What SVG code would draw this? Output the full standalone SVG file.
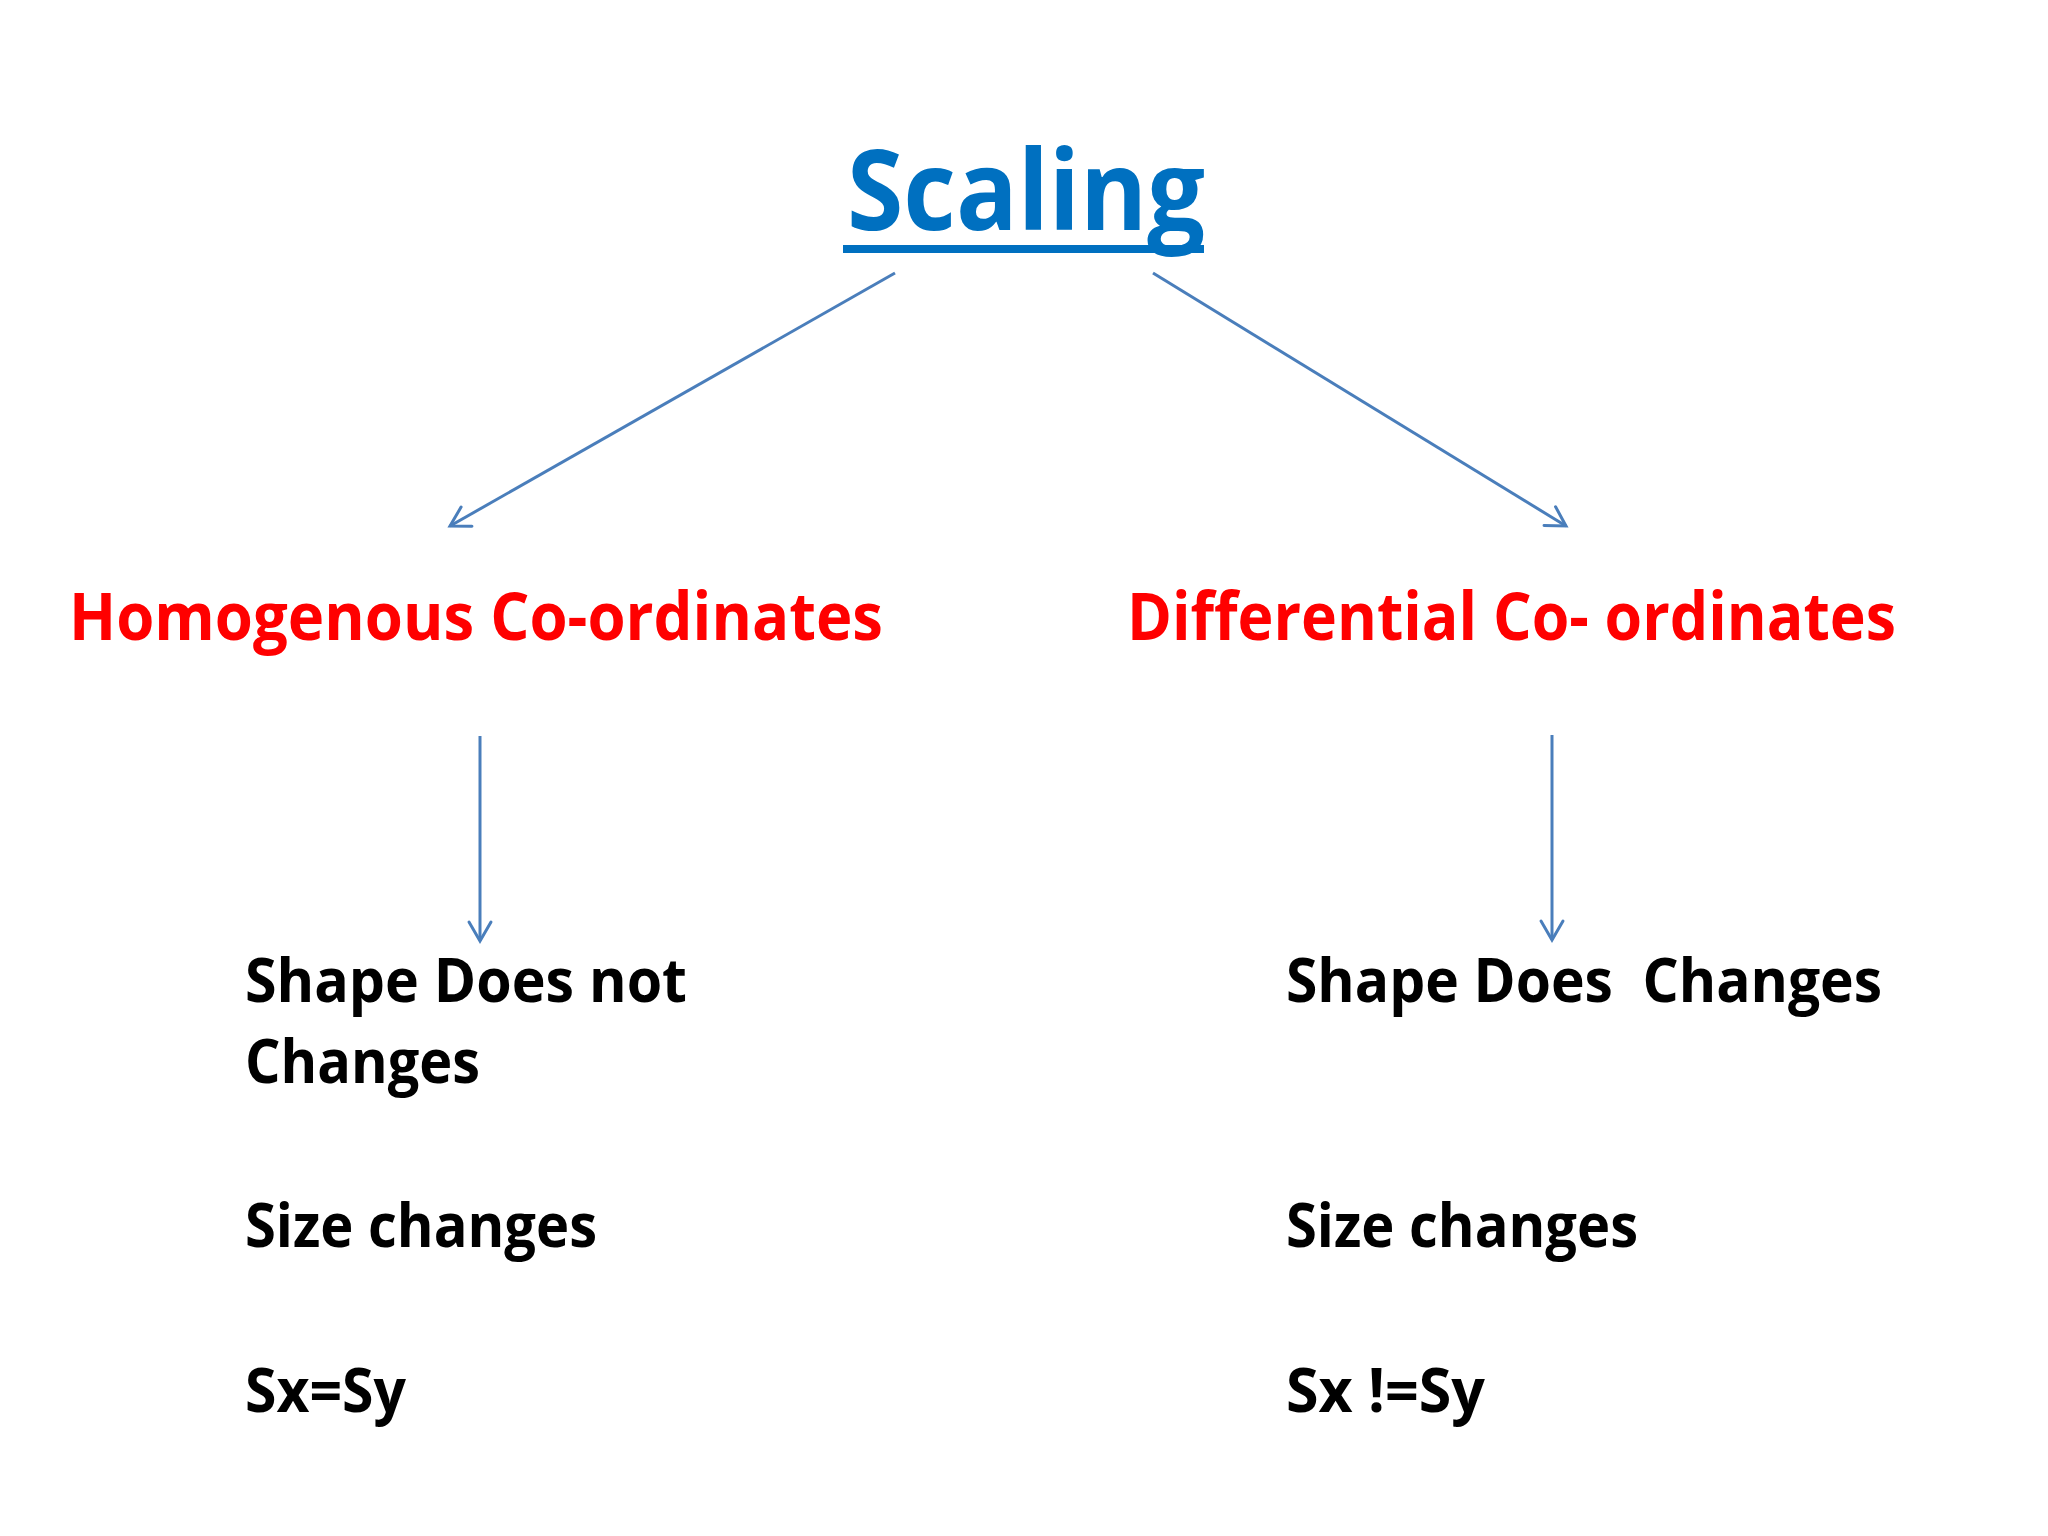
<svg xmlns="http://www.w3.org/2000/svg" width="2048" height="1536" viewBox="0 0 2048 1536">
<defs>
<style>
.title{font-family:"Open Sans","Noto Sans","Liberation Sans",sans-serif;font-weight:700;font-size:112px;fill:#0070C0}
.red{font-family:"Open Sans","Noto Sans","Liberation Sans",sans-serif;font-weight:700;font-size:67px;fill:#FF0000}
.blk{font-family:"Open Sans","Noto Sans","Liberation Sans",sans-serif;font-weight:700;font-size:61px;fill:#000000;white-space:pre}
.conn{stroke:#4A7EBB;stroke-width:3;fill:none;marker-end:url(#arr)}
</style>
<marker id="arr" markerUnits="userSpaceOnUse" viewBox="-24 -14 28 28" markerWidth="28" markerHeight="28" refX="0" refY="0" orient="auto">
<path d="M-19,-11 L0,0 L-19,11" fill="none" stroke="#4A7EBB" stroke-width="3" stroke-linecap="round" stroke-linejoin="miter"/>
</marker>
</defs>
<rect x="0" y="0" width="2048" height="1536" fill="#FFFFFF"/>
<g id="connectors">
<line class="conn" x1="895" y1="273" x2="450" y2="526"/>
<line class="conn" x1="1153" y1="273" x2="1566" y2="526"/>
<line class="conn" x1="480" y1="736" x2="480" y2="941"/>
<line class="conn" x1="1552" y1="735" x2="1552" y2="940"/>
</g>
<g id="node-scaling">
<text class="title" x="847" y="230" textLength="358" lengthAdjust="spacingAndGlyphs">Scaling</text>
<rect x="843" y="245" width="361" height="8" fill="#0070C0"/>
</g>
<g id="node-homogenous">
<text class="red" x="69" y="640" textLength="814" lengthAdjust="spacingAndGlyphs">Homogenous Co-ordinates</text>
</g>
<g id="node-differential">
<text class="red" x="1127" y="640" textLength="769" lengthAdjust="spacingAndGlyphs">Differential Co- ordinates</text>
</g>
<g id="node-left-props">
<text class="blk" x="245" y="1002" textLength="442" lengthAdjust="spacingAndGlyphs">Shape Does not</text>
<text class="blk" x="245" y="1083" textLength="235" lengthAdjust="spacingAndGlyphs">Changes</text>
<text class="blk" x="245" y="1247" textLength="352" lengthAdjust="spacingAndGlyphs">Size changes</text>
<text class="blk" x="245" y="1412" textLength="161" lengthAdjust="spacingAndGlyphs">Sx=Sy</text>
</g>
<g id="node-right-props">
<text class="blk" x="1286" y="1002" textLength="596" lengthAdjust="spacingAndGlyphs" xml:space="preserve">Shape Does  Changes</text>
<text class="blk" x="1286" y="1247" textLength="352" lengthAdjust="spacingAndGlyphs">Size changes</text>
<text class="blk" x="1286" y="1412" textLength="199" lengthAdjust="spacingAndGlyphs">Sx !=Sy</text>
</g>
</svg>
